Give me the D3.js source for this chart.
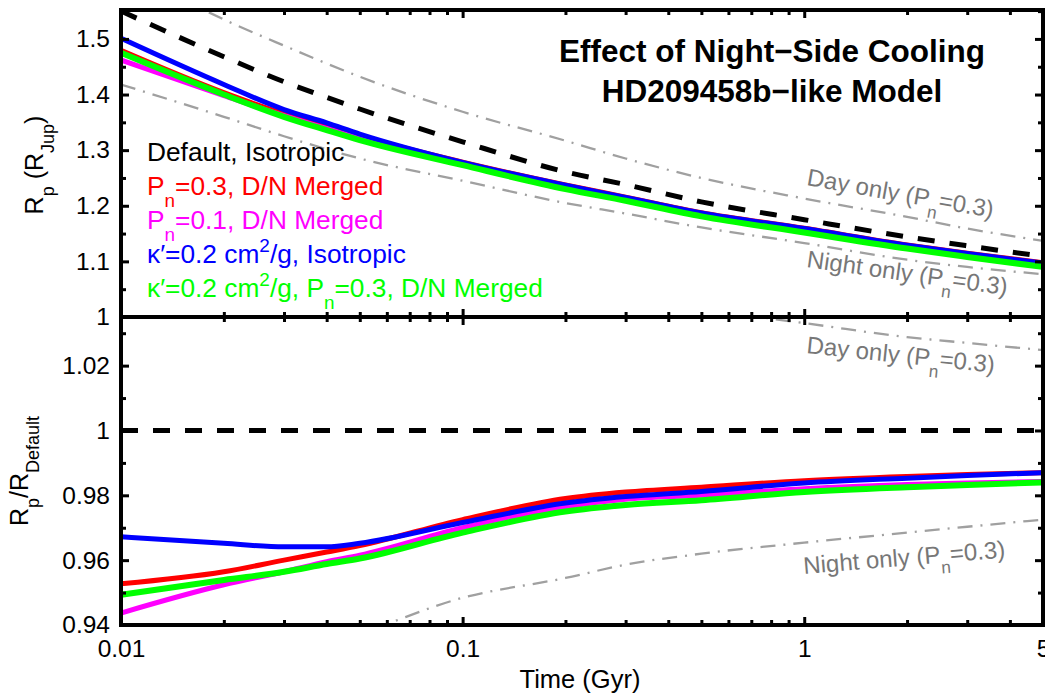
<!DOCTYPE html>
<html>
<head>
<meta charset="utf-8">
<script src="https://cdn.jsdelivr.net/npm/d3@7"></script>
<style>
  html, body { margin: 0; padding: 0; background: #fff; }
  svg { display: block; }
</style>
</head>
<body>
<script>
// ---------------- DATA ----------------
const times = [0.01, 0.02, 0.03, 0.04, 0.05, 0.1, 0.2, 0.3, 0.5, 1, 2, 3, 5];
// Top panel: planet radius (R_Jup)
const radiusDefault   = [1.550, 1.468, 1.423, 1.395, 1.374, 1.315, 1.261, 1.238, 1.207, 1.175, 1.144, 1.128, 1.109];
const radiusPn03      = [1.480, 1.404, 1.366, 1.344, 1.326, 1.279, 1.238, 1.216, 1.188, 1.160, 1.130, 1.115, 1.098];
const radiusPn01      = [1.462, 1.398, 1.362, 1.339, 1.321, 1.275, 1.233, 1.212, 1.184, 1.155, 1.126, 1.111, 1.094];
const radiusKappa     = [1.501, 1.418, 1.373, 1.349, 1.329, 1.278, 1.237, 1.215, 1.187, 1.159, 1.129, 1.114, 1.097];
const radiusKappaPn03 = [1.475, 1.400, 1.360, 1.336, 1.318, 1.273, 1.230, 1.209, 1.181, 1.152, 1.123, 1.108, 1.090];

const refTimes = [0.01, 0.02, 0.03, 0.05, 0.1, 0.2, 0.3, 0.5, 1, 2, 3, 5];
const radiusDayOnly   = [1.630, 1.535, 1.488, 1.432, 1.369, 1.317, 1.285, 1.250, 1.213, 1.180, 1.159, 1.137];
const radiusNightOnly = [1.418, 1.360, 1.325, 1.285, 1.245, 1.205, 1.186, 1.161, 1.133, 1.103, 1.090, 1.077];

// Bottom panel: R_p / R_Default
const ratioDefault   = [1, 1, 1, 1, 1, 1, 1, 1, 1, 1, 1, 1, 1];
const ratioPn03      = [0.9527, 0.9564, 0.9600, 0.9625, 0.9645, 0.9725, 0.9790, 0.9810, 0.9825, 0.9845, 0.9858, 0.9864, 0.9870];
const ratioPn01      = [0.9437, 0.9524, 0.9564, 0.9595, 0.9615, 0.9700, 0.9765, 0.9788, 0.9800, 0.9820, 0.9833, 0.9838, 0.9843];
const ratioKappa     = [0.9672, 0.9652, 0.9641, 0.9641, 0.9652, 0.9716, 0.9776, 0.9796, 0.9812, 0.9838, 0.9853, 0.9861, 0.9870];
const ratioKappaPn03 = [0.9493, 0.9539, 0.9564, 0.9588, 0.9605, 0.9685, 0.9750, 0.9770, 0.9785, 0.9810, 0.9825, 0.9832, 0.9840];
const ratioDayOnly   = [1.053, 1.046, 1.046, 1.042, 1.041, 1.040, 1.038, 1.037, 1.0331, 1.0288, 1.0270, 1.0248];
const ratioNightOnly = [0.916, 0.926, 0.931, 0.9375, 0.9484, 0.9545, 0.9586, 0.9620, 0.9654, 0.9685, 0.9703, 0.9725];

// Tick values / labels
const xMajorTicks = [0.01, 0.1, 1, 5];
const xMinorTicks = [0.02,0.03,0.04,0.05,0.06,0.07,0.08,0.09,0.2,0.3,0.4,0.5,0.6,0.7,0.8,0.9,2,3,4];
const yTopMajor = [1, 1.1, 1.2, 1.3, 1.4, 1.5];
const yTopMinor = [1.05, 1.15, 1.25, 1.35, 1.45, 1.55];
const yBotMajor = [0.94, 0.96, 0.98, 1, 1.02];
const yBotMinor = [0.95, 0.97, 0.99, 1.01, 1.03];

const legendEntries = [
  [["Default, Isotropic", "n"]],
  [["P", "n"], ["n", "sub"], ["=0.3, D/N Merged", "n"]],
  [["P", "n"], ["n", "sub"], ["=0.1, D/N Merged", "n"]],
  [["κ′=0.2 cm", "n"], ["2", "sup"], ["/g, Isotropic", "n"]],
  [["κ′=0.2 cm", "n"], ["2", "sup"], ["/g, P", "n"], ["n", "sub"], ["=0.3, D/N Merged", "n"]]
];
const seriesColors = ["#000000", "#ff0000", "#ff00ff", "#0000ff", "#00ff00"];
const titleLines = ["Effect of Night\u2212Side Cooling", "HD209458b\u2212like Model"];

// ---------------- LAYOUT ----------------
const W = 1045, H = 696;
const L = 121, R = 1043, T = 10, MID = 317, B = 625;
const FONT = "'Liberation Sans', Arial, Helvetica, sans-serif";

const svg = d3.select("body").append("svg").attr("width", W).attr("height", H)
  .style("font-family", FONT);
svg.append("rect").attr("width", W).attr("height", H).attr("fill", "#fff");

const x = d3.scaleLog().domain([0.01, 5]).range([L, R]);
const yTop = d3.scaleLinear().domain([1, 1.552]).range([MID, T]);
const yBot = d3.scaleLinear().domain([0.94, 1.035]).range([B, MID]);

const defs = svg.append("defs");
defs.append("clipPath").attr("id", "clipTop").append("rect")
  .attr("x", L).attr("y", T).attr("width", R - L).attr("height", MID - T);
defs.append("clipPath").attr("id", "clipBot").append("rect")
  .attr("x", L).attr("y", MID).attr("width", R - L).attr("height", B - MID);

function rich(textSel, parts, fs) {
  let shift = 0;
  parts.forEach(([t, mode]) => {
    const ts = textSel.append("tspan").text(t);
    let target = 0, size = fs;
    if (mode === "sub") { target = fs * 0.45; size = fs * 0.72; }
    if (mode === "sup") { target = -fs * 0.42; size = fs * 0.72; }
    const dy = target - shift;
    if (dy !== 0) ts.attr("dy", dy);
    ts.attr("font-size", size);
    shift = target;
  });
}

function drawPanel(yScale, clipId, series) {
  const g = svg.append("g").attr("clip-path", `url(#${clipId})`);
  series.forEach(s => {
    const line = d3.line().x(d => x(d[0])).y(d => yScale(d[1])).curve(d3.curveMonotoneX);
    const data = s.t.map((t, i) => [t, s.v[i]]);
    g.append("path").attr("d", line(data)).attr("fill", "none")
      .attr("stroke", s.color).attr("stroke-width", s.w)
      .attr("stroke-dasharray", s.dash || null)
      .attr("stroke-linejoin", "round");
  });
}

const gray = "#a0a0a0";
const dashDot = "15,8,2,8";
drawPanel(yTop, "clipTop", [
  { t: refTimes, v: radiusDayOnly, color: gray, w: 2.3, dash: dashDot },
  { t: refTimes, v: radiusNightOnly, color: gray, w: 2.3, dash: dashDot },
  { t: times, v: radiusDefault, color: seriesColors[0], w: 5, dash: "17,15" },
  { t: times, v: radiusPn03, color: seriesColors[1], w: 4.5 },
  { t: times, v: radiusPn01, color: seriesColors[2], w: 5 },
  { t: times, v: radiusKappa, color: seriesColors[3], w: 5 },
  { t: times, v: radiusKappaPn03, color: seriesColors[4], w: 6 }
]);
drawPanel(yBot, "clipBot", [
  { t: refTimes, v: ratioDayOnly, color: gray, w: 2.3, dash: dashDot },
  { t: refTimes, v: ratioNightOnly, color: gray, w: 2.3, dash: dashDot },
  { t: times, v: ratioDefault, color: seriesColors[0], w: 5, dash: "17,15" },
  { t: times, v: ratioPn03, color: seriesColors[1], w: 5 },
  { t: times, v: ratioPn01, color: seriesColors[2], w: 5 },
  { t: times, v: ratioKappa, color: seriesColors[3], w: 5 },
  { t: times, v: ratioKappaPn03, color: seriesColors[4], w: 6 }
]);

// ---------------- AXES ----------------
function styleAxis(g, fs) {
  g.select(".domain").remove();
  g.selectAll(".tick line").attr("stroke", "#000").attr("stroke-width", 3);
  g.selectAll(".tick text").attr("fill", "#000").attr("font-size", fs)
    .attr("font-family", FONT);
}
const fmt = d => String(+d.toFixed(3));
const noLab = () => "";

function xAxes(yPos, isTop, labels) {
  const mk = isTop ? d3.axisTop : d3.axisBottom;
  svg.append("g").attr("transform", `translate(0,${yPos})`)
    .call(mk(x).tickValues([0.01, 0.1, 1]).tickSize(-8).tickSizeOuter(0).tickFormat(noLab))
    .call(g => styleAxis(g, 24));
  svg.append("g").attr("transform", `translate(0,${yPos})`)
    .call(mk(x).tickValues(xMinorTicks).tickSize(-5).tickSizeOuter(0).tickFormat(noLab))
    .call(g => styleAxis(g, 24));
  if (labels) {
    svg.append("g").attr("transform", `translate(0,${yPos})`)
      .call(mk(x).tickValues(xMajorTicks).tickSize(0).tickPadding(15).tickFormat(fmt))
      .call(g => styleAxis(g, 24.5));
  }
}
xAxes(T, true, false);
xAxes(MID, false, false);
xAxes(MID, true, false);
xAxes(B, false, true);

function yAxes(scale, major, minor) {
  const mn = minor.filter(v => v < scale.domain()[1]);
  svg.append("g").attr("transform", `translate(${L},0)`)
    .call(d3.axisLeft(scale).tickValues(major).tickSize(-8).tickSizeOuter(0).tickPadding(11).tickFormat(fmt))
    .call(g => styleAxis(g, 24.5));
  svg.append("g").attr("transform", `translate(${L},0)`)
    .call(d3.axisLeft(scale).tickValues(mn).tickSize(-5).tickSizeOuter(0).tickFormat(noLab))
    .call(g => styleAxis(g, 24));
  svg.append("g").attr("transform", `translate(${R},0)`)
    .call(d3.axisRight(scale).tickValues(major).tickSize(-8).tickSizeOuter(0).tickFormat(noLab))
    .call(g => styleAxis(g, 24));
  svg.append("g").attr("transform", `translate(${R},0)`)
    .call(d3.axisRight(scale).tickValues(mn).tickSize(-5).tickSizeOuter(0).tickFormat(noLab))
    .call(g => styleAxis(g, 24));
}
yAxes(yTop, yTopMajor, yTopMinor);
yAxes(yBot, yBotMajor, yBotMinor);

// frames
[[T, MID], [MID, B]].forEach(([a, b]) => {
  svg.append("rect").attr("x", L).attr("y", a).attr("width", R - L).attr("height", b - a)
    .attr("fill", "none").attr("stroke", "#000").attr("stroke-width", 4);
});

// ---------------- TEXT ----------------
titleLines.forEach((t, i) => {
  svg.append("text").attr("x", 772).attr("y", 62 + i * 40).attr("text-anchor", "middle")
    .attr("font-size", 31.5).attr("font-weight", "bold").attr("fill", "#000").text(t);
});

legendEntries.forEach((parts, i) => {
  const t = svg.append("text").attr("x", 147).attr("y", 161 + i * 34)
    .attr("fill", seriesColors[i]);
  rich(t, parts, 26.3);
});

// axis titles
const yl1 = svg.append("text").attr("transform", "translate(43,165) rotate(-90)")
  .attr("text-anchor", "middle").attr("fill", "#000");
rich(yl1, [["R", "n"], ["p", "sub"], [" (R", "n"], ["Jup", "sub"], [")", "n"]], 25);
const yl2 = svg.append("text").attr("transform", "translate(28,471) rotate(-90)")
  .attr("text-anchor", "middle").attr("fill", "#000");
rich(yl2, [["R", "n"], ["p", "sub"], ["/R", "n"], ["Default", "sub"]], 25);
svg.append("text").attr("x", 580).attr("y", 688).attr("text-anchor", "middle")
  .attr("font-size", 25.5).attr("fill", "#000").text("Time (Gyr)");

// gray annotations
const annGray = "#777777";
const annots = [
  { label: "Day only (P", x: 806, y: 185, rot: 10 },
  { label: "Night only (P", x: 806, y: 267, rot: 8 },
  { label: "Day only (P", x: 806, y: 353, rot: 6 },
  { label: "Night only (P", x: 804, y: 574, rot: -4.7 }
];
annots.forEach(a => {
  const t = svg.append("text").attr("transform", `translate(${a.x},${a.y}) rotate(${a.rot})`)
    .attr("fill", annGray);
  rich(t, [[a.label, "n"], ["n", "sub"], ["=0.3)", "n"]], 24);
});
</script>
</body>
</html>
